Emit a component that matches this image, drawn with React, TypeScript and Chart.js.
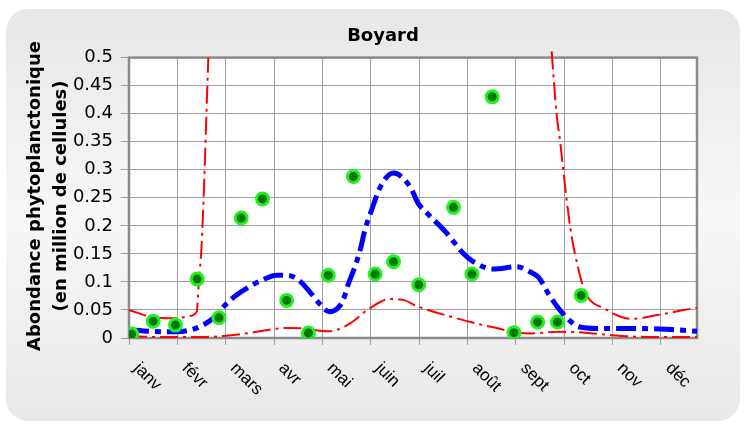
import React, { useEffect, useRef } from "react";
import { Chart, registerables } from "chart.js";

Chart.register(...registerables);

const months = ["janv", "févr", "mars", "avr", "mai", "juin", "juil", "août", "sept", "oct", "nov", "déc"];
const yTitle1 = "Abondance phytoplanctonique";
const yTitle2 = "(en million de cellules)";
const chartTitle = "Boyard";

// observations (x in months from 1 Jan, y in million cells)
const obsX = [0.056, 0.5, 0.96, 1.41, 1.86, 2.32, 2.76, 3.26, 3.71, 4.12, 4.64, 5.09, 5.47, 5.99, 6.71, 7.09, 7.51, 7.96, 8.45, 8.86, 9.35];
const obsY = [0.007, 0.03, 0.023, 0.105, 0.036, 0.214, 0.248, 0.067, 0.009, 0.112, 0.288, 0.114, 0.136, 0.095, 0.233, 0.114, 0.43, 0.0095, 0.0286, 0.0286, 0.076];

// model mean (blue)
const meanX = [0, 0.43, 0.99, 1.3, 1.53, 1.78, 1.98, 2.23, 2.5, 2.77, 3.05, 3.33, 3.55, 3.74, 3.95, 4.14, 4.3, 4.43, 4.53, 4.67, 4.78, 4.88, 5.02, 5.2, 5.47, 5.81, 5.98, 6.16, 6.57, 6.91, 7.12, 7.53, 8.02, 8.29, 8.47, 8.7, 8.89, 9.1, 9.3, 9.71, 10.4, 11.22, 11.745];
const meanY = [0.015, 0.012, 0.011, 0.015, 0.023, 0.038, 0.058, 0.077, 0.092, 0.104, 0.112, 0.111, 0.1, 0.082, 0.06, 0.047, 0.052, 0.068, 0.095, 0.127, 0.157, 0.193, 0.229, 0.27, 0.294, 0.27, 0.24, 0.223, 0.187, 0.151, 0.136, 0.123, 0.127, 0.118, 0.108, 0.075, 0.052, 0.032, 0.02, 0.017, 0.017, 0.015, 0.012];

// upper bound (red) - null breaks the line where it leaves the plot
const upperX = [0, 0.44, 0.99, 1.25, 1.4, 1.447, 1.5, 1.555, 1.605, 1.64, 5, 8.74, 8.84, 8.91, 9.05, 9.15, 9.29, 9.43, 9.84, 10.39, 10.87, 11.36, 11.745];
const upperY = [0.05, 0.038, 0.035, 0.039, 0.047, 0.104, 0.163, 0.28, 0.41, 0.5, null, 0.511, 0.4, 0.354, 0.246, 0.183, 0.124, 0.082, 0.052, 0.034, 0.04, 0.048, 0.054];

// lower bound (red)
const lowerX = [0, 0.5, 1.0, 1.6, 2.12, 2.64, 3.0, 3.26, 3.6, 3.95, 4.16, 4.35, 4.57, 4.98, 5.4, 5.67, 5.95, 6.78, 7.53, 8.29, 8.88, 9.43, 9.98, 10.74, 11.745];
const lowerY = [0.003, 0.002, 0.002, 0.002, 0.005, 0.011, 0.016, 0.018, 0.017, 0.013, 0.012, 0.016, 0.026, 0.053, 0.0696, 0.068, 0.057, 0.035, 0.019, 0.008, 0.011, 0.0095, 0.005, 0.002, 0.002];

const yTicks = [0, 0.05, 0.1, 0.15, 0.2, 0.25, 0.3, 0.35, 0.4, 0.45, 0.5];

const pts = (xs: number[], ys: (number | null)[]) => xs.map((x, i) => ({ x, y: ys[i] }));

const framePlugin = {
  id: "frame",
  beforeDraw(chart: any) {
    const ctx = chart.ctx;
    const { width, height } = chart;
    ctx.save();
    ctx.fillStyle = "#ffffff";
    ctx.fillRect(0, 0, width, height);
    const x0 = 6, y0 = 9, x1 = 740, y1 = 421, r = 22;
    const g = ctx.createLinearGradient(0, y0, 0, y1);
    g.addColorStop(0, "#e7e7e7");
    g.addColorStop(0.5, "#f7f7f7");
    g.addColorStop(1, "#e8e8e8");
    ctx.beginPath();
    ctx.moveTo(x0 + r, y0);
    ctx.lineTo(x1 - r, y0);
    ctx.arcTo(x1, y0, x1, y0 + r, r);
    ctx.lineTo(x1, y1 - r);
    ctx.arcTo(x1, y1, x1 - r, y1, r);
    ctx.lineTo(x0 + r, y1);
    ctx.arcTo(x0, y1, x0, y1 - r, r);
    ctx.lineTo(x0, y0 + r);
    ctx.arcTo(x0, y0, x0 + r, y0, r);
    ctx.closePath();
    ctx.fillStyle = g;
    ctx.fill();
    const a = chart.chartArea;
    ctx.fillStyle = "#ffffff";
    ctx.fillRect(a.left, a.top, a.right - a.left, a.bottom - a.top);
    ctx.restore();
  },
  beforeDatasetsDraw(chart: any) {
    const ctx = chart.ctx;
    const a = chart.chartArea;
    ctx.save();
    ctx.strokeStyle = "#8a8a8a";
    ctx.lineWidth = 2.5;
    ctx.strokeRect(a.left, a.top, a.right - a.left, a.bottom - a.top);
    ctx.restore();
  },
  afterDraw(chart: any) {
    const ctx = chart.ctx;
    const a = chart.chartArea;
    const xs = chart.scales.x;
    ctx.save();
    ctx.fillStyle = "#000000";
    ctx.font = "17px 'Liberation Sans', Arial, sans-serif";
    ctx.textAlign = "left";
    ctx.textBaseline = "alphabetic";
    xs.ticks.forEach((t: any) => {
      const label = months[Math.round(t.value)];
      if (label === undefined) return;
      const px = xs.getPixelForValue(t.value);
      ctx.save();
      ctx.translate(px + 4, a.bottom + 31);
      ctx.rotate(Math.PI / 4);
      ctx.fillText(label, 0, 0);
      ctx.restore();
    });
    ctx.font = "bold 18px 'DejaVu Sans', sans-serif";
    ctx.textAlign = "center";
    ctx.textBaseline = "middle";
    const cy = 196;
    [[yTitle1, 35], [yTitle2, 61]].forEach(([txt, x]) => {
      ctx.save();
      ctx.translate(x as number, cy);
      ctx.rotate(-Math.PI / 2);
      ctx.fillText(txt as string, 0, 0);
      ctx.restore();
    });
    ctx.restore();
  },
};

export default function App() {
  const ref = useRef<HTMLCanvasElement | null>(null);
  useEffect(() => {
    if (!ref.current) return;
    const chart = new Chart(ref.current, {
      type: "line",
      data: {
        datasets: [
          {
            label: "observations",
            data: pts(obsX, obsY),
            showLine: false,
            pointRadius: 6,
            pointBorderWidth: 3,
            pointBackgroundColor: "#007800",
            pointBorderColor: "#22f022",
          },
          {
            label: "moyenne",
            data: pts(meanX, meanY),
            borderColor: "#0000ff",
            borderWidth: 5,
            borderDash: [20, 6, 6, 6],
            borderCapStyle: "butt",
            pointRadius: 0,
            cubicInterpolationMode: "monotone",
            fill: false,
          },
          {
            label: "borne haute",
            data: pts(upperX, upperY),
            borderColor: "#ff0000",
            borderWidth: 2,
            borderDash: [18, 5, 3, 5],
            pointRadius: 0,
            spanGaps: false,
            cubicInterpolationMode: "monotone",
            fill: false,
            clip: { left: 2, top: 8, right: 2, bottom: 2 },
          },
          {
            label: "borne basse",
            data: pts(lowerX, lowerY),
            borderColor: "#ff0000",
            borderWidth: 2,
            borderDash: [18, 5, 3, 5],
            pointRadius: 0,
            cubicInterpolationMode: "monotone",
            fill: false,
          },
        ],
      },
      options: {
        animation: false,
        responsive: false,
        events: [],
        layout: { padding: { left: 69, right: 47, top: 0, bottom: 0 } },
        plugins: {
          legend: { display: false },
          tooltip: { enabled: false },
          title: {
            display: true,
            text: chartTitle,
            color: "#000000",
            font: { family: "'DejaVu Sans', sans-serif", size: 18, weight: "bold" },
            padding: { top: 26, bottom: 10 },
          },
        },
        scales: {
          x: {
            type: "linear",
            min: 0,
            max: 11.745,
            afterFit: (s: any) => { s.height = 87; },
            ticks: { display: false, stepSize: 1, includeBounds: false },
            grid: { color: "#a0a0a0", lineWidth: 1, tickLength: 7, drawTicks: true },
            border: { display: false },
          },
          y: {
            min: 0,
            max: 0.5,
            afterFit: (s: any) => { s.width = 60; },
            afterBuildTicks: (s: any) => { s.ticks = yTicks.map((v) => ({ value: v })); },
            ticks: {
              color: "#000000",
              font: { family: "'DejaVu Sans', sans-serif", size: 18 },
              padding: 8,
              callback: (v: any) => String(Math.round(Number(v) * 100) / 100),
            },
            grid: { color: "#a0a0a0", lineWidth: 1, tickLength: 8 },
            border: { display: false },
          },
        },
      } as any,
      plugins: [framePlugin],
    });
    return () => chart.destroy();
  }, []);
  return (
    <div style={{ position: "fixed", left: 0, top: 0, width: 744, height: 425 }}>
      <canvas ref={ref} width={744} height={425} style={{ display: "block" }} />
    </div>
  );
}
